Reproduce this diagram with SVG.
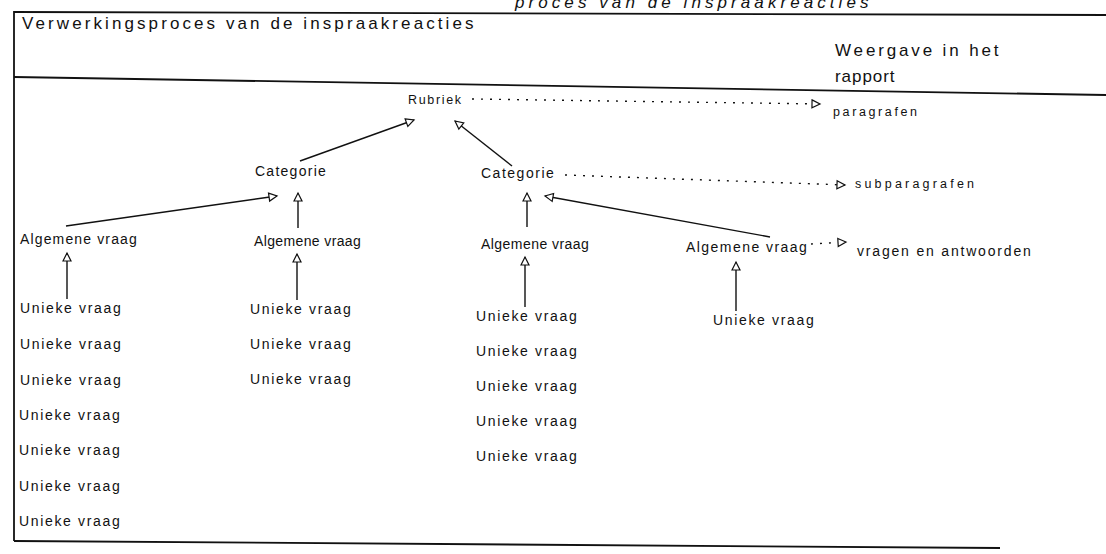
<svg xmlns="http://www.w3.org/2000/svg" width="1106" height="554" viewBox="0 0 1106 554">
<style>
text{font-family:"Liberation Sans",Arial,sans-serif;fill:#111;}
.n{font-size:14px;letter-spacing:1.2px;}
.s{font-size:12.5px;letter-spacing:1px;}
.h{font-size:17px;letter-spacing:1.5px;}
.frame{stroke:#111;stroke-width:1.8;fill:none;}
.c{stroke:#111;stroke-width:1.4;fill:none;marker-end:url(#ah);}
.d{stroke:#111;stroke-width:1.4;fill:none;stroke-dasharray:2 7;marker-end:url(#ah);}
</style>
<defs>
<marker id="ah" markerUnits="userSpaceOnUse" markerWidth="12" markerHeight="12" refX="8" refY="4" orient="auto" overflow="visible">
<path d="M0,0 L8,4 L0,8 Z" fill="#fff" stroke="#111" stroke-width="1.2"/>
</marker>
</defs>
<rect width="1106" height="554" fill="#fff"/>
<g id="frame">
<text x="515" y="8" style="font-family:'Liberation Sans',Arial,sans-serif;font-size:17px;font-style:italic;letter-spacing:1.5px" textLength="355">proces van de inspraakreacties</text>
<path class="frame" d="M14,12 L1106,15"/>
<path class="frame" d="M14,11 L14,541"/>
<path class="frame" d="M14,77 L1106,95"/>
<path class="frame" d="M14,541 L1000,548"/>
<text class="h" x="22" y="29" textLength="453">Verwerkingsproces van de inspraakreacties</text>
<text class="h" x="835" y="56" textLength="165">Weergave in het</text>
<text class="h" x="835" y="82" textLength="61">rapport</text>
</g>
<g id="connectors">
<path class="d" d="M472,99 L820,104"/>
<path class="d" d="M565,175 L845,185"/>
<path class="d" d="M811,244 L846,242"/>
<path class="c" d="M300,161 L414,120"/>
<path class="c" d="M512,166 L455,121"/>
<path class="c" d="M66,226 L277,196"/>
<path class="c" d="M298,228 L298,193"/>
<path class="c" d="M527,227 L527,193"/>
<path class="c" d="M770,237 L545,196"/>
<path class="c" d="M67,299 L67,253"/>
<path class="c" d="M297,300 L297,254"/>
<path class="c" d="M525,307 L525,257"/>
<path class="c" d="M736,311 L736,262"/>
</g>
<g id="rubriek"><text class="s" x="408" y="104" textLength="54">Rubriek</text></g>
<g id="paragrafen"><text class="s" x="833" y="116" textLength="85">paragrafen</text></g>
<g id="categorie1"><text class="n" x="255" y="176" textLength="72">Categorie</text></g>
<g id="categorie2"><text class="n" x="481" y="178" textLength="74">Categorie</text></g>
<g id="subparagrafen"><text class="s" x="855" y="188" textLength="120">subparagrafen</text></g>
<g id="algemene1"><text class="n" x="20" y="244" textLength="118">Algemene vraag</text></g>
<g id="algemene2"><text class="n" x="254" y="246" textLength="108">Algemene vraag</text></g>
<g id="algemene3"><text class="n" x="481" y="249" textLength="109">Algemene vraag</text></g>
<g id="algemene4"><text class="n" x="686" y="252" textLength="122">Algemene vraag</text></g>
<g id="vragen"><text class="n" x="857" y="256" textLength="175">vragen en antwoorden</text></g>
<g id="unieke-col1">
<text class="n" x="20" y="313" textLength="102">Unieke vraag</text>
<text class="n" x="20" y="349" textLength="102">Unieke vraag</text>
<text class="n" x="20" y="385" textLength="102">Unieke vraag</text>
<text class="n" x="19" y="420" textLength="102">Unieke vraag</text>
<text class="n" x="19" y="455" textLength="102">Unieke vraag</text>
<text class="n" x="19" y="491" textLength="102">Unieke vraag</text>
<text class="n" x="19" y="526" textLength="102">Unieke vraag</text>
</g>
<g id="unieke-col2">
<text class="n" x="250" y="314" textLength="102">Unieke vraag</text>
<text class="n" x="250" y="349" textLength="102">Unieke vraag</text>
<text class="n" x="250" y="384" textLength="102">Unieke vraag</text>
</g>
<g id="unieke-col3">
<text class="n" x="476" y="321" textLength="102">Unieke vraag</text>
<text class="n" x="476" y="356" textLength="102">Unieke vraag</text>
<text class="n" x="476" y="391" textLength="102">Unieke vraag</text>
<text class="n" x="476" y="426" textLength="102">Unieke vraag</text>
<text class="n" x="476" y="461" textLength="102">Unieke vraag</text>
</g>
<g id="unieke-col4">
<text class="n" x="713" y="325" textLength="102">Unieke vraag</text>
</g>
</svg>
